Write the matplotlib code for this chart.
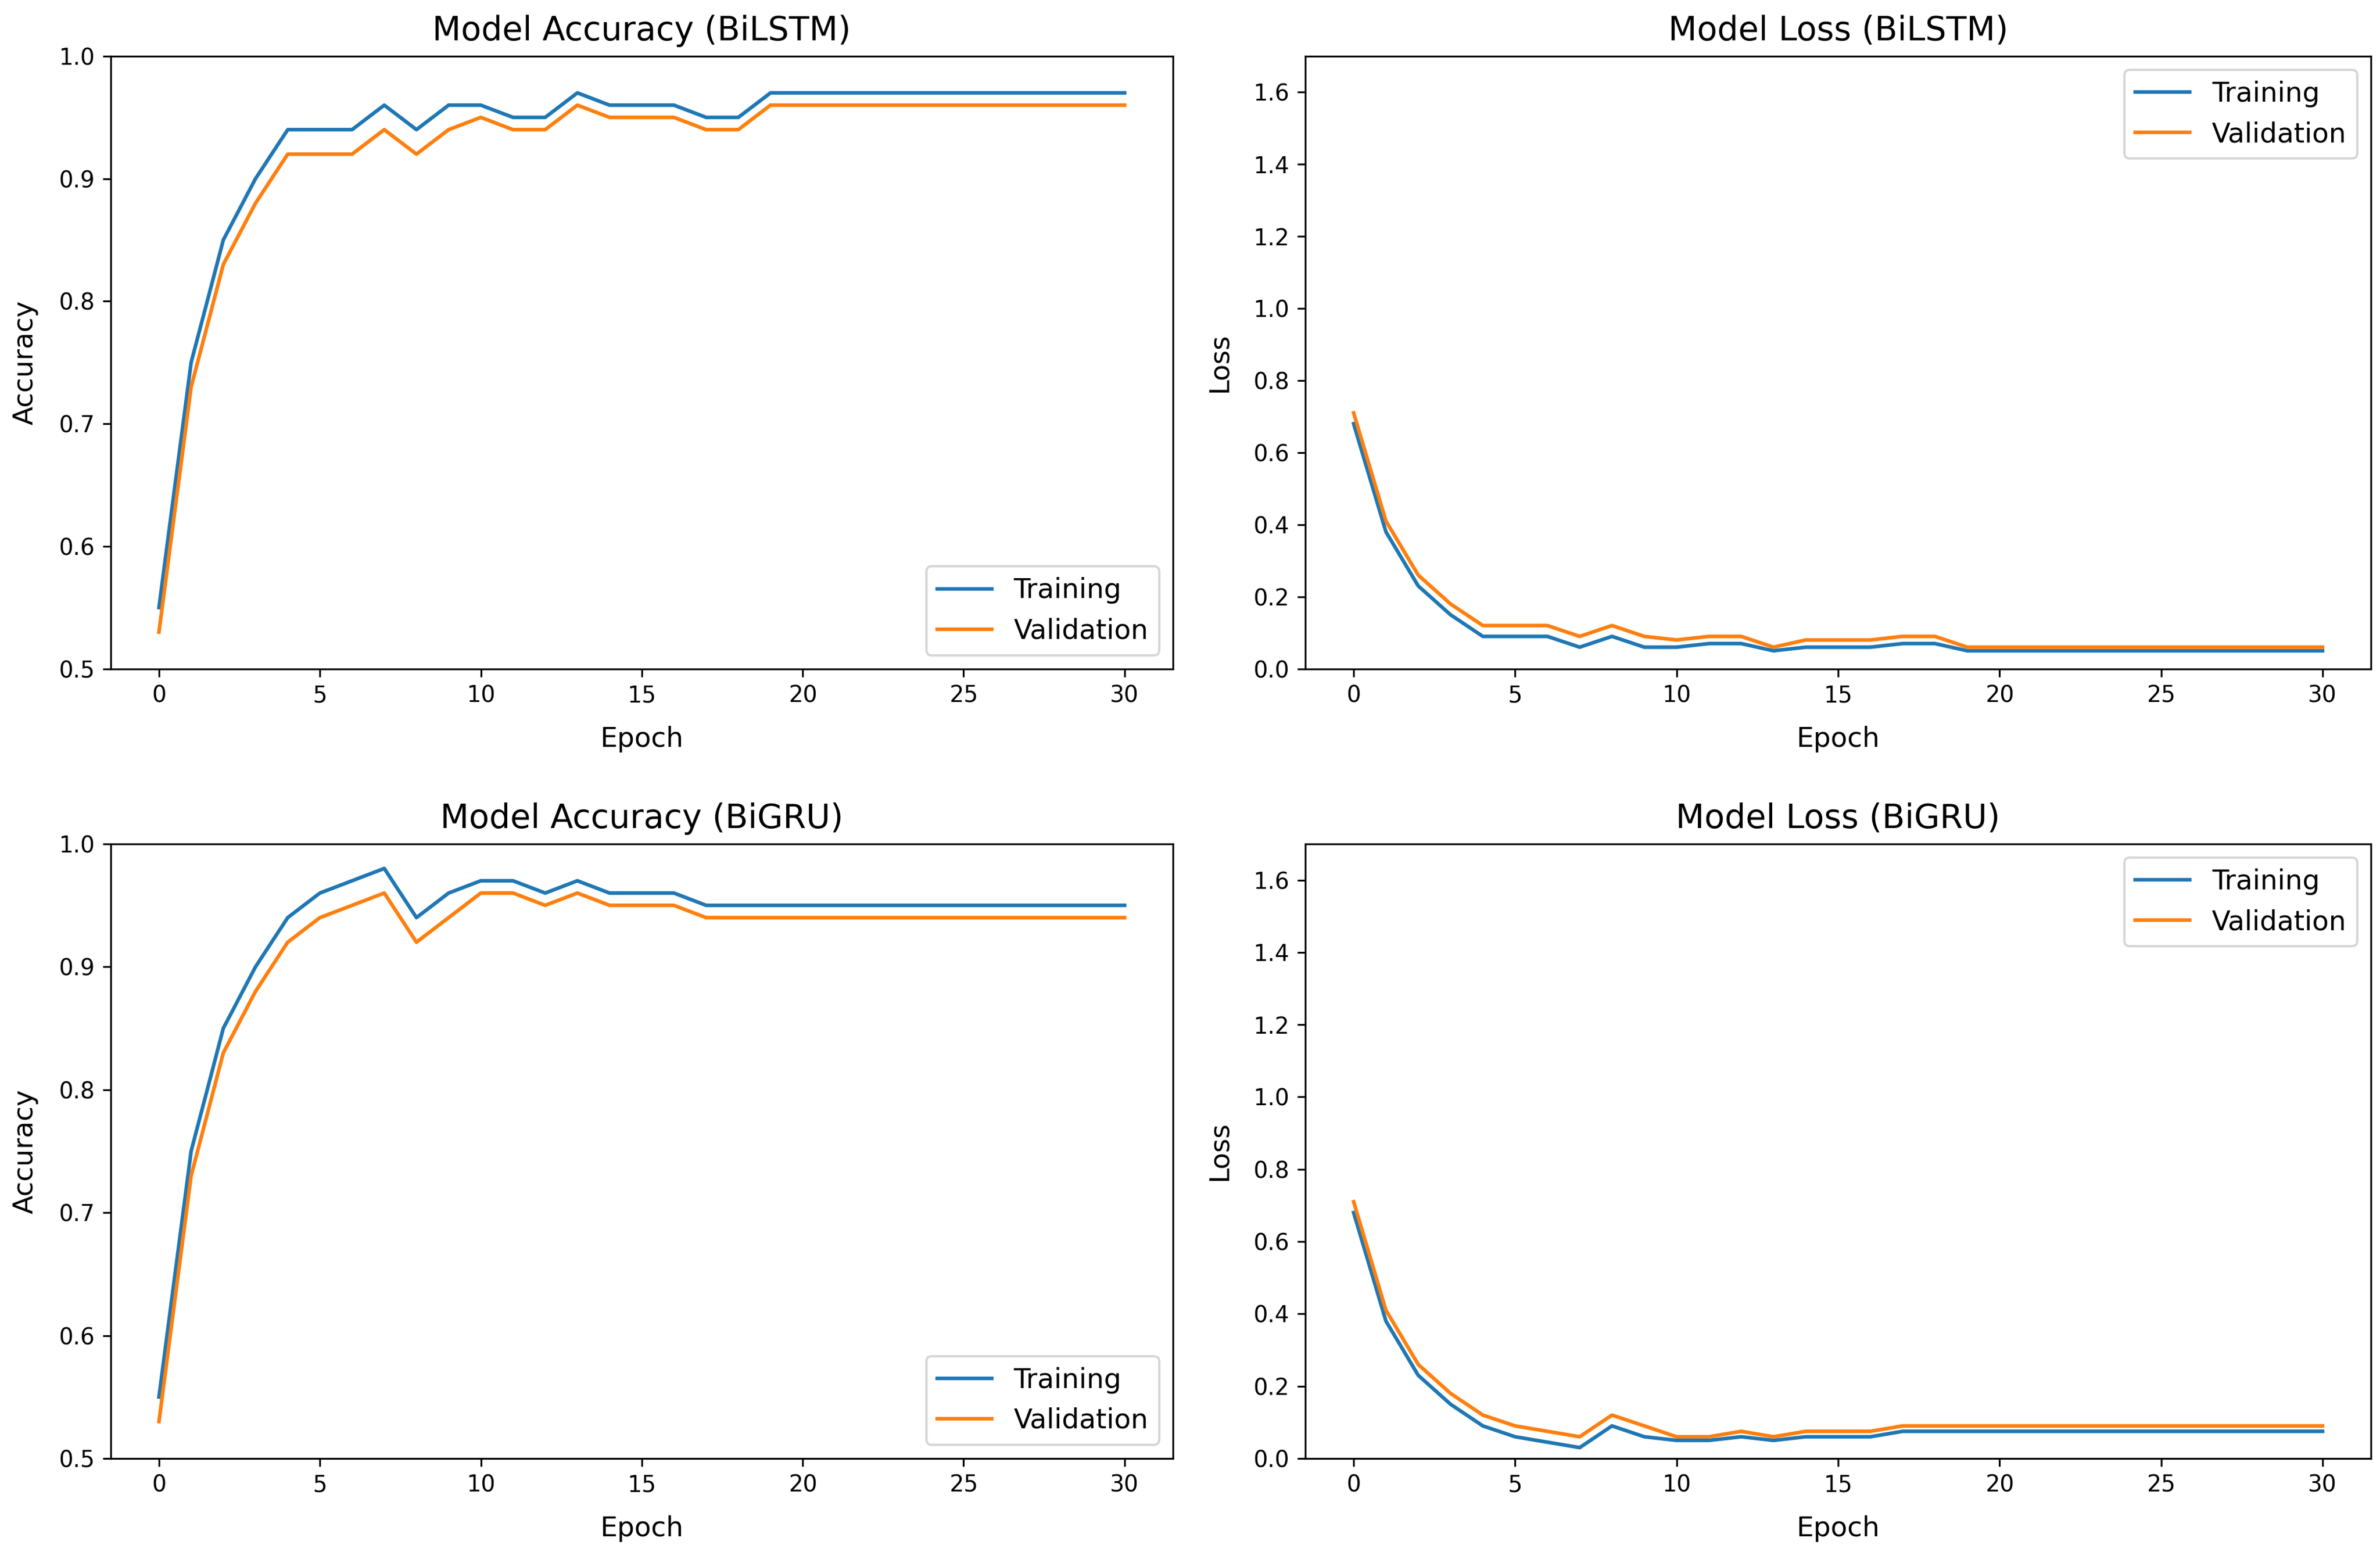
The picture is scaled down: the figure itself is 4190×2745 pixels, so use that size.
import matplotlib
matplotlib.use("Agg")
import matplotlib.pyplot as plt
import numpy as np

epochs = list(range(31))

lstm_acc_train = [0.55, 0.75, 0.85, 0.90, 0.94, 0.94, 0.94, 0.96, 0.94, 0.96, 0.96,
                  0.95, 0.95, 0.97, 0.96, 0.96, 0.96, 0.95, 0.95, 0.97, 0.97,
                  0.97, 0.97, 0.97, 0.97, 0.97, 0.97, 0.97, 0.97, 0.97, 0.97]
lstm_acc_val = [0.53, 0.73, 0.83, 0.88, 0.92, 0.92, 0.92, 0.94, 0.92, 0.94, 0.95,
                0.94, 0.94, 0.96, 0.95, 0.95, 0.95, 0.94, 0.94, 0.96, 0.96,
                0.96, 0.96, 0.96, 0.96, 0.96, 0.96, 0.96, 0.96, 0.96, 0.96]
lstm_loss_train = [0.68, 0.38, 0.23, 0.15, 0.09, 0.09, 0.09, 0.06, 0.09, 0.06, 0.06,
                   0.07, 0.07, 0.05, 0.06, 0.06, 0.06, 0.07, 0.07, 0.05, 0.05,
                   0.05, 0.05, 0.05, 0.05, 0.05, 0.05, 0.05, 0.05, 0.05, 0.05]
lstm_loss_val = [0.71, 0.41, 0.26, 0.18, 0.12, 0.12, 0.12, 0.09, 0.12, 0.09, 0.08,
                 0.09, 0.09, 0.06, 0.08, 0.08, 0.08, 0.09, 0.09, 0.06, 0.06,
                 0.06, 0.06, 0.06, 0.06, 0.06, 0.06, 0.06, 0.06, 0.06, 0.06]

gru_acc_train = [0.55, 0.75, 0.85, 0.90, 0.94, 0.96, 0.97, 0.98, 0.94, 0.96, 0.97,
                 0.97, 0.96, 0.97, 0.96, 0.96, 0.96, 0.95, 0.95, 0.95, 0.95,
                 0.95, 0.95, 0.95, 0.95, 0.95, 0.95, 0.95, 0.95, 0.95, 0.95]
gru_acc_val = [0.53, 0.73, 0.83, 0.88, 0.92, 0.94, 0.95, 0.96, 0.92, 0.94, 0.96,
               0.96, 0.95, 0.96, 0.95, 0.95, 0.95, 0.94, 0.94, 0.94, 0.94,
               0.94, 0.94, 0.94, 0.94, 0.94, 0.94, 0.94, 0.94, 0.94, 0.94]
gru_loss_train = [0.68, 0.38, 0.23, 0.15, 0.09, 0.06, 0.045, 0.03, 0.09, 0.06, 0.05,
                  0.05, 0.06, 0.05, 0.06, 0.06, 0.06, 0.075, 0.075, 0.075, 0.075,
                  0.075, 0.075, 0.075, 0.075, 0.075, 0.075, 0.075, 0.075, 0.075, 0.075]
gru_loss_val = [0.71, 0.41, 0.26, 0.18, 0.12, 0.09, 0.075, 0.06, 0.12, 0.09, 0.06,
                0.06, 0.075, 0.06, 0.075, 0.075, 0.075, 0.09, 0.09, 0.09, 0.09,
                0.09, 0.09, 0.09, 0.09, 0.09, 0.09, 0.09, 0.09, 0.09, 0.09]

DPI = 288
fig = plt.figure(figsize=(4190 / DPI, 2745 / DPI), dpi=DPI)

left_l, right_l = 0.0465, 0.4928
left_r, right_r = 0.5484, 0.9962
top1, bot1 = 0.964, 0.571
top2, bot2 = 0.4587, 0.0645

panels = [
    ([left_l, bot1, right_l - left_l, top1 - bot1], lstm_acc_train, lstm_acc_val,
     "Model Accuracy (BiLSTM)", "Accuracy", (0.5, 1.0), "lower right"),
    ([left_r, bot1, right_r - left_r, top1 - bot1], lstm_loss_train, lstm_loss_val,
     "Model Loss (BiLSTM)", "Loss", (0.0, 1.7), "upper right"),
    ([left_l, bot2, right_l - left_l, top2 - bot2], gru_acc_train, gru_acc_val,
     "Model Accuracy (BiGRU)", "Accuracy", (0.5, 1.0), "lower right"),
    ([left_r, bot2, right_r - left_r, top2 - bot2], gru_loss_train, gru_loss_val,
     "Model Loss (BiGRU)", "Loss", (0.0, 1.7), "upper right"),
]

for rect, tr, va, title, ylabel, ylim, loc in panels:
    ax = fig.add_axes(rect)
    ax.plot(epochs, tr, color="#1f77b4", lw=1.6, label="Training")
    ax.plot(epochs, va, color="#ff7f0e", lw=1.6, label="Validation")
    ax.set_title(title, fontsize=14.6, pad=7)
    ax.set_xlabel("Epoch", fontsize=12, labelpad=8)
    ax.set_ylabel(ylabel, fontsize=12, labelpad=9)
    ax.set_ylim(*ylim)
    ax.set_xticks([0, 5, 10, 15, 20, 25, 30])
    ax.tick_params(labelsize=10)
    ax.legend(loc=loc, fontsize=12)

fig.savefig("out.png", dpi=DPI)
